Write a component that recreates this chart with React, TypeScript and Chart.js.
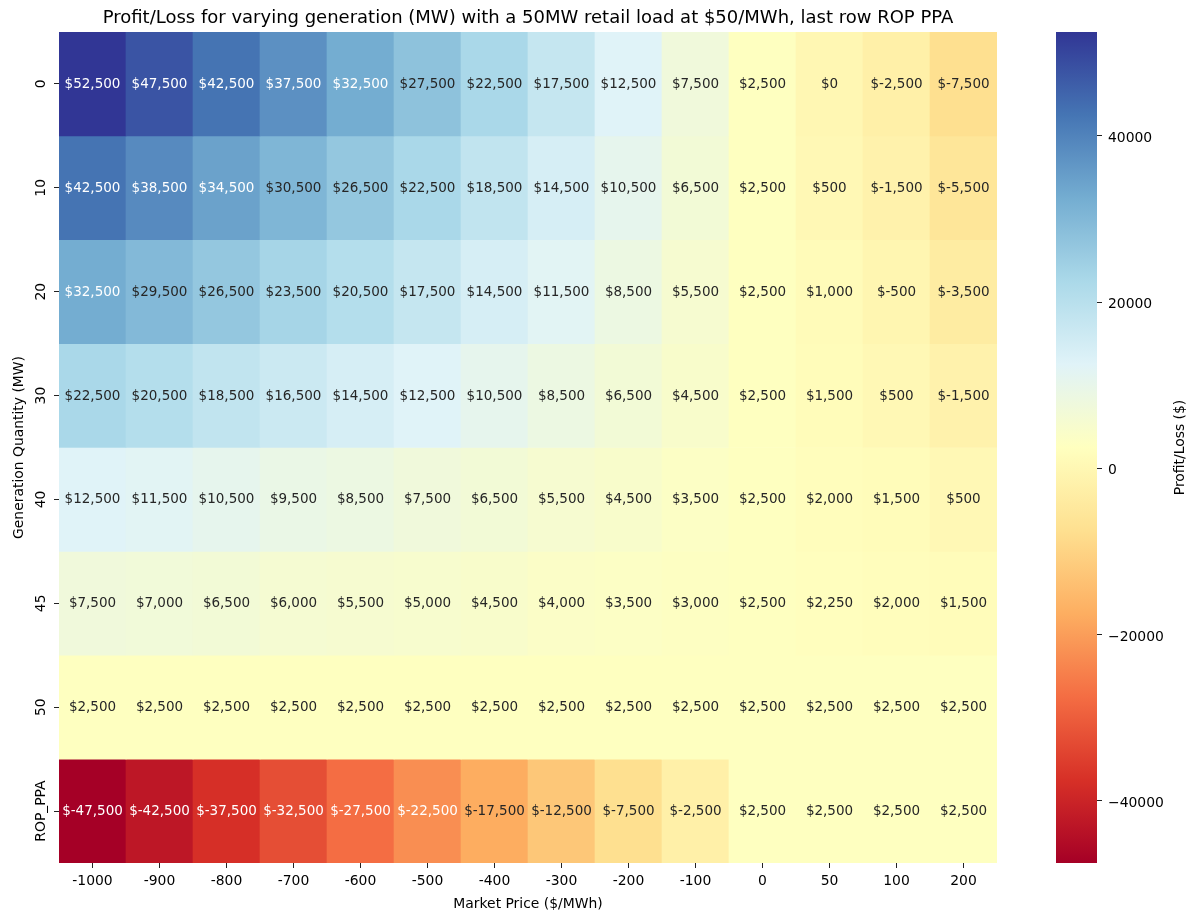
import { useEffect, useRef } from 'react';
import { Chart, registerables } from 'chart.js';

Chart.register(...registerables);

// Market prices along the x axis ($/MWh)
const prices = ['-1000', '-900', '-800', '-700', '-600', '-500', '-400', '-300', '-200', '-100', '0', '50', '100', '200'];

// Generation rows along the y axis
const generation = ['0', '10', '20', '30', '40', '45', '50', 'ROP_PPA'];

// Profit/loss ($) per row, one value per market price
const gen0 = [52500, 47500, 42500, 37500, 32500, 27500, 22500, 17500, 12500, 7500, 2500, 0, -2500, -7500];
const gen10 = [42500, 38500, 34500, 30500, 26500, 22500, 18500, 14500, 10500, 6500, 2500, 500, -1500, -5500];
const gen20 = [32500, 29500, 26500, 23500, 20500, 17500, 14500, 11500, 8500, 5500, 2500, 1000, -500, -3500];
const gen30 = [22500, 20500, 18500, 16500, 14500, 12500, 10500, 8500, 6500, 4500, 2500, 1500, 500, -1500];
const gen40 = [12500, 11500, 10500, 9500, 8500, 7500, 6500, 5500, 4500, 3500, 2500, 2000, 1500, 500];
const gen45 = [7500, 7000, 6500, 6000, 5500, 5000, 4500, 4000, 3500, 3000, 2500, 2250, 2000, 1500];
const gen50 = [2500, 2500, 2500, 2500, 2500, 2500, 2500, 2500, 2500, 2500, 2500, 2500, 2500, 2500];
const ropPpa = [-47500, -42500, -37500, -32500, -27500, -22500, -17500, -12500, -7500, -2500, 2500, 2500, 2500, 2500];

const profit = [gen0, gen10, gen20, gen30, gen40, gen45, gen50, ropPpa];

// Colour bar tick values
const colorbarTicks = [-40000, -20000, 0, 20000, 40000];

const allValues = profit.flat();
const vmin = Math.min(...allValues);
const vmax = Math.max(...allValues);

const TITLE = 'Profit/Loss for varying generation (MW) with a 50MW retail load at $50/MWh, last row ROP PPA';
const FONT = 'DejaVu Sans';
const TEXT_DARK = '#262626';

// RdYlBu colour map stops
const RDYLBU = ['#a50026', '#d73027', '#f46d43', '#fdae61', '#fee090', '#ffffbf', '#e0f3f8', '#abd9e9', '#74add1', '#4575b4', '#313695'];

const hexToRgb = (h: string) => [1, 3, 5].map((i) => parseInt(h.slice(i, i + 2), 16));
const STOPS = RDYLBU.map(hexToRgb);

function cmapRgb(v: number): number[] {
  let t = (v - vmin) / (vmax - vmin);
  t = Math.max(0, Math.min(1, t));
  const k = Math.min(255, Math.floor(t * 256));
  const s = (k / 255) * (STOPS.length - 1);
  const i = Math.min(STOPS.length - 2, Math.floor(s));
  const f = s - i;
  return STOPS[i].map((c, j) => Math.round(c + (STOPS[i + 1][j] - c) * f));
}

function cmap(v: number): string {
  const [r, g, b] = cmapRgb(v);
  return `rgb(${r},${g},${b})`;
}

function textColorFor(v: number): string {
  const lin = cmapRgb(v).map((c) => {
    const x = c / 255;
    return x <= 0.03928 ? x / 12.92 : Math.pow((x + 0.055) / 1.055, 2.4);
  });
  const lum = 0.2126 * lin[0] + 0.7152 * lin[1] + 0.0722 * lin[2];
  return lum > 0.408 ? TEXT_DARK : '#ffffff';
}

const formatMoney = (v: number) => '$' + v.toLocaleString('en-US');

// Writes each cell's value at its centre
const cellLabels = {
  id: 'cellLabels',
  afterDatasetsDraw(chart: any) {
    const ctx = chart.ctx;
    ctx.save();
    ctx.font = `13.5px "${FONT}"`;
    ctx.textAlign = 'center';
    ctx.textBaseline = 'middle';
    profit.forEach((row, r) => {
      const meta = chart.getDatasetMeta(r);
      meta.data.forEach((bar: any, c: number) => {
        const { x, y, base } = bar.getProps(['x', 'y', 'base'], true);
        ctx.fillStyle = textColorFor(row[c]);
        ctx.fillText(formatMoney(row[c]), x, (y + base) / 2 + 0.5);
      });
    });
    ctx.restore();
  },
};

// Row labels, rotated to read bottom-to-top beside the y ticks
const rowLabels = {
  id: 'rowLabels',
  afterDraw(chart: any) {
    const ctx = chart.ctx;
    const ys = chart.scales.y;
    ctx.save();
    ctx.font = `13.9px "${FONT}"`;
    ctx.fillStyle = '#000';
    ctx.textAlign = 'center';
    ctx.textBaseline = 'middle';
    generation.forEach((g, i) => {
      const py = ys.getPixelForValue(i);
      ctx.save();
      ctx.translate(41, py);
      ctx.rotate(-Math.PI / 2);
      ctx.fillText(g, 0, 0);
      ctx.restore();
    });
    ctx.restore();
  },
};

// Colour bar label, reading bottom-to-top
const colorbarLabel = {
  id: 'colorbarLabel',
  afterDraw(chart: any) {
    const ctx = chart.ctx;
    const a = chart.chartArea;
    ctx.save();
    ctx.font = `13.9px "${FONT}"`;
    ctx.fillStyle = '#000';
    ctx.textAlign = 'center';
    ctx.textBaseline = 'middle';
    ctx.translate(180, (a.top + a.bottom) / 2);
    ctx.rotate(-Math.PI / 2);
    ctx.fillText('Profit/Loss ($)', 0, 0);
    ctx.restore();
  },
};

export default function App() {
  const heatRef = useRef<HTMLCanvasElement>(null);
  const barRef = useRef<HTMLCanvasElement>(null);

  useEffect(() => {
    const tickFont = { family: FONT, size: 13.9 };

    const heat = new Chart(heatRef.current as HTMLCanvasElement, {
      type: 'bar',
      data: {
        labels: prices,
        datasets: profit.map((row, r) => ({
          label: generation[r],
          data: row.map(() => [r - 0.5, r + 0.5]),
          backgroundColor: row.map(cmap),
          borderWidth: 0,
          barPercentage: 1,
          categoryPercentage: 1,
          grouped: false,
        })),
      } as any,
      options: {
        responsive: false,
        animation: false,
        events: [],
        layout: { padding: { right: 13 } },
        plugins: {
          legend: { display: false },
          tooltip: { enabled: false },
          title: {
            display: true,
            text: TITLE,
            fullSize: false,
            color: '#000',
            font: { family: FONT, size: 18, weight: 'normal' },
            padding: { top: 7.7, bottom: 2.7 },
          },
        },
        scales: {
          x: {
            grid: { offset: false, drawOnChartArea: false, drawTicks: true, tickLength: 5, color: '#222' },
            border: { display: false },
            ticks: { font: tickFont, color: '#000', padding: 5, maxRotation: 0, autoSkip: false },
            title: {
              display: true,
              text: 'Market Price ($/MWh)',
              color: '#000',
              font: tickFont,
              padding: { top: 0, bottom: 0 },
            },
            afterFit: (s: any) => {
              s.height = 50;
            },
          },
          y: {
            type: 'linear',
            reverse: true,
            min: -0.5,
            max: generation.length - 0.5,
            afterBuildTicks: (s: any) => {
              s.ticks = generation.map((_, i) => ({ value: i }));
            },
            grid: { drawOnChartArea: false, drawTicks: true, tickLength: 5, color: '#222' },
            border: { display: false },
            ticks: { display: false },
            title: {
              display: true,
              text: 'Generation Quantity (MW)',
              color: '#000',
              font: tickFont,
              padding: { top: 11, bottom: 0 },
            },
            afterFit: (s: any) => {
              s.width = 59;
            },
          },
        },
      } as any,
      plugins: [cellLabels, rowLabels],
    });

    const bar = new Chart(barRef.current as HTMLCanvasElement, {
      type: 'bar',
      data: {
        labels: ['Profit/Loss ($)'],
        datasets: [
          {
            data: [[vmin, vmax]],
            backgroundColor: (c: any) => {
              const chart = c.chart;
              if (!chart.chartArea) return RDYLBU[5];
              const ys = chart.scales.y;
              const g = chart.ctx.createLinearGradient(0, ys.getPixelForValue(vmin), 0, ys.getPixelForValue(vmax));
              RDYLBU.forEach((col, k) => g.addColorStop(k / (RDYLBU.length - 1), col));
              return g;
            },
            borderWidth: 0,
            barPercentage: 1,
            categoryPercentage: 1,
          },
        ],
      } as any,
      options: {
        responsive: false,
        animation: false,
        events: [],
        layout: { padding: { left: 56, top: 32, bottom: 50 } },
        plugins: { legend: { display: false }, tooltip: { enabled: false } },
        scales: {
          x: { display: false },
          y: {
            position: 'right',
            min: vmin,
            max: vmax,
            afterBuildTicks: (s: any) => {
              s.ticks = colorbarTicks.map((v) => ({ value: v }));
            },
            grid: { drawOnChartArea: false, drawTicks: true, tickLength: 5, color: '#222' },
            border: { display: false },
            ticks: {
              font: tickFont,
              color: '#000',
              padding: 6,
              labelOffset: 2.5,
              callback: (v: any) => (v < 0 ? '\u2212' + Math.abs(v) : String(v)),
            },
            afterFit: (s: any) => {
              s.width = 95;
            },
          },
        },
      } as any,
      plugins: [colorbarLabel],
    });

    return () => {
      heat.destroy();
      bar.destroy();
    };
  }, []);

  return (
    <div style={{ position: 'absolute', left: 0, top: 0, width: 1192, height: 913, background: '#fff' }}>
      <canvas ref={heatRef} width={1010} height={913} style={{ position: 'absolute', left: 0, top: 0, width: 1010, height: 913 }} />
      <canvas ref={barRef} width={192} height={913} style={{ position: 'absolute', left: 1000, top: 0, width: 192, height: 913 }} />
    </div>
  );
}
